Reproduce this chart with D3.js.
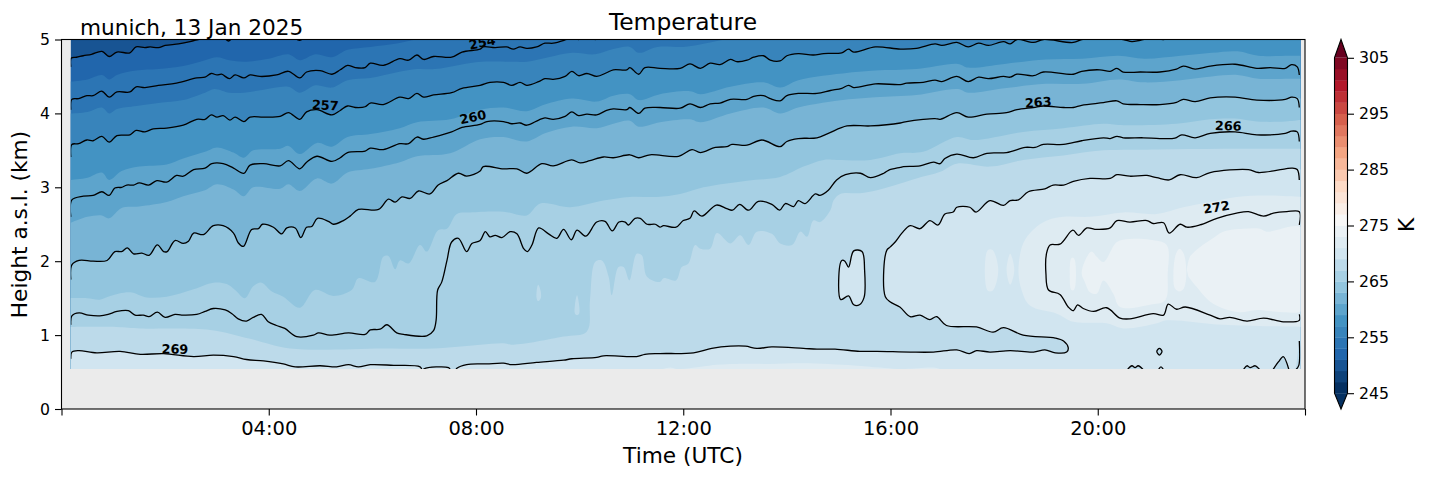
<!DOCTYPE html>
<html>
<head>
<meta charset="utf-8">
<style>
  html, body { margin: 0; padding: 0; background: #fff; }
  svg { display: block; }
  text { font-family: "DejaVu Sans", sans-serif; fill: #000; }
</style>
</head>
<body>
<div id="canvas"></div>
<script src="https://d3js.org/d3.v7.min.js"></script>
<script>
// isotherms, [hour UTC, height km]
var iso251 = [[.18,4.63],[.19,4.75],[.29,4.76],[.42,4.78],[.58,4.80],[.78,4.84],[.92,4.77],[1.07,4.83],[1.32,4.82],[1.44,4.90],[1.61,4.89],[1.71,4.90],[1.87,4.89],[2.0,4.92],[2.26,4.94],[2.48,4.97],[2.64,5.0],[2.8,5.03],[3.0,5.05],[3.12,5.03],[3.22,4.98],[3.32,5.03],[3.5,5.05],[4.4,5.05],[4.6,4.99],[4.73,5.05]];

var iso254 = [[.18,4.05],[.20,4.19],[.33,4.20],[.49,4.24],[.61,4.24],[.78,4.30],[.92,4.22],[1.07,4.29],[1.32,4.29],[1.44,4.36],[1.61,4.35],[1.87,4.38],[2.22,4.41],[2.61,4.48],[2.77,4.49],[2.89,4.54],[3.0,4.52],[3.09,4.53],[3.24,4.47],[3.35,4.52],[3.52,4.48],[3.64,4.52],[3.83,4.50],[4.15,4.52],[4.38,4.57],[4.60,4.48],[4.73,4.56],[4.99,4.58],[5.22,4.53],[5.38,4.59],[5.52,4.65],[5.67,4.62],[5.86,4.62],[5.96,4.68],[6.21,4.65],[6.53,4.74],[6.70,4.72],[6.86,4.79],[6.99,4.73],[7.18,4.77],[7.53,4.76],[7.73,4.83],[8.08,4.87],[8.14,4.90],[8.37,4.89],[8.59,4.90],[8.72,4.87],[8.85,4.90],[8.98,4.88],[9.17,4.90],[9.33,4.95],[9.49,4.95],[9.75,5.0],[9.88,5.03],[9.98,5.0],[10.07,5.03],[10.2,5.03],[10.3,5.0],[10.4,5.03]];

var iso257 = [[.18,3.41],[.20,3.58],[.33,3.59],[.49,3.64],[.61,3.63],[.78,3.69],[.92,3.61],[1.07,3.70],[1.32,3.71],[1.44,3.77],[1.61,3.75],[1.77,3.79],[2.03,3.80],[2.35,3.84],[2.61,3.92],[2.77,3.92],[2.89,3.98],[3.0,3.95],[3.12,3.97],[3.25,3.91],[3.35,3.95],[3.52,3.89],[3.64,3.95],[3.9,3.95],[4.22,3.96],[4.38,4.01],[4.60,3.92],[4.73,4.02],[4.93,4.05],[5.22,3.98],[5.38,4.04],[5.52,4.10],[5.67,4.08],[5.86,4.09],[5.96,4.14],[6.21,4.12],[6.53,4.22],[6.70,4.20],[6.86,4.27],[6.99,4.22],[7.18,4.25],[7.53,4.28],[7.73,4.34],[8.08,4.38],[8.27,4.42],[8.53,4.42],[8.69,4.38],[8.85,4.42],[8.98,4.38],[9.21,4.43],[9.33,4.47],[9.49,4.46],[9.72,4.50],[9.85,4.57],[9.98,4.51],[10.14,4.54],[10.33,4.50],[10.52,4.55],[10.65,4.59],[10.91,4.59],[10.97,4.62],[11.14,4.53],[11.26,4.62],[11.55,4.61],[11.94,4.61],[12.13,4.67],[12.33,4.61],[12.52,4.68],[12.71,4.66],[12.91,4.73],[13.03,4.70],[13.23,4.72],[13.36,4.76],[13.55,4.78],[13.68,4.72],[13.87,4.71],[14.0,4.78],[14.22,4.81],[14.51,4.79],[14.71,4.81],[15.06,4.82],[15.19,4.87],[15.29,4.83],[15.71,4.90],[16.19,4.87],[16.5,4.88],[16.86,4.94],[16.99,4.92],[17.28,4.96],[17.5,4.90],[17.7,4.95],[17.89,4.92],[18.18,4.97],[18.31,4.94],[18.44,5.0],[18.76,4.96],[18.95,5.0],[19.53,4.96],[19.69,5.0],[19.98,5.02],[20.49,5.0],[20.66,4.97],[20.82,4.99],[21.07,5.02],[21.27,5.0],[21.4,5.03]];

var iso260 = [[.18,2.6],[.20,2.83],[.42,2.88],[.61,2.89],[.78,2.94],[.92,2.89],[1.03,2.99],[1.16,3.0],[1.26,3.03],[1.39,3.03],[1.5,3.06],[1.68,3.03],[1.84,3.09],[2.03,3.07],[2.22,3.16],[2.35,3.15],[2.55,3.24],[2.77,3.26],[2.9,3.32],[3.12,3.32],[3.32,3.26],[3.52,3.19],[3.64,3.30],[3.9,3.32],[4.22,3.29],[4.38,3.36],[4.6,3.25],[4.73,3.34],[4.93,3.42],[5.22,3.35],[5.38,3.40],[5.52,3.47],[5.86,3.49],[5.96,3.53],[6.21,3.51],[6.53,3.59],[6.70,3.59],[6.86,3.68],[6.99,3.65],[7.18,3.68],[7.53,3.75],[7.73,3.81],[8.08,3.85],[8.21,3.89],[8.53,3.89],[8.69,3.86],[8.85,3.87],[8.98,3.84],[9.21,3.91],[9.33,3.94],[9.49,3.92],[9.72,3.96],[9.85,4.02],[9.98,3.97],[10.14,3.99],[10.33,3.98],[10.52,4.04],[10.65,4.06],[10.91,4.05],[10.97,4.08],[11.14,4.0],[11.26,4.07],[11.55,4.08],[11.94,4.07],[12.13,4.13],[12.33,4.08],[12.52,4.13],[12.71,4.14],[12.91,4.19],[13.23,4.19],[13.36,4.23],[13.55,4.24],[13.68,4.20],[13.87,4.17],[14.0,4.24],[14.22,4.27],[14.58,4.27],[14.84,4.31],[15.06,4.34],[15.19,4.38],[15.29,4.35],[15.71,4.40],[16.19,4.39],[16.31,4.41],[16.63,4.42],[16.86,4.45],[16.99,4.43],[17.28,4.50],[17.5,4.43],[17.7,4.49],[17.89,4.47],[18.18,4.50],[18.31,4.49],[18.44,4.53],[18.76,4.51],[18.95,4.56],[19.53,4.53],[19.69,4.57],[20.04,4.59],[20.24,4.57],[20.37,4.61],[20.49,4.56],[20.82,4.56],[21.2,4.56],[21.52,4.60],[21.65,4.64],[21.88,4.60],[22.17,4.64],[22.65,4.665],[23.07,4.61],[23.33,4.62],[23.62,4.61],[23.74,4.66],[23.85,4.63],[23.89,4.52]];

var iso263 = [[.18,1.75],[.2,1.95],[.34,2.01],[.61,2.0],[.88,2.01],[1.03,2.13],[1.16,2.13],[1.27,2.18],[1.39,2.10],[1.55,2.11],[1.69,2.08],[1.85,2.22],[1.97,2.13],[2.04,2.13],[2.19,2.28],[2.35,2.24],[2.45,2.27],[2.55,2.38],[2.74,2.36],[2.93,2.48],[3.12,2.48],[3.32,2.38],[3.41,2.25],[3.51,2.20],[3.67,2.43],[3.8,2.44],[3.88,2.5],[4.09,2.46],[4.25,2.37],[4.35,2.45],[4.51,2.45],[4.62,2.32],[4.73,2.46],[4.83,2.47],[4.94,2.58],[5.15,2.54],[5.25,2.5],[5.44,2.55],[5.57,2.61],[5.73,2.70],[6.12,2.70],[6.31,2.84],[6.44,2.80],[6.57,2.87],[6.73,2.85],[6.89,2.95],[7.11,2.91],[7.27,3.03],[7.44,3.09],[7.66,3.19],[7.82,3.15],[8.08,3.22],[8.14,3.28],[8.53,3.25],[8.79,3.25],[8.98,3.19],[9.27,3.32],[9.49,3.29],[9.85,3.37],[10.01,3.33],[10.2,3.36],[10.46,3.41],[10.65,3.40],[10.97,3.44],[11.14,3.40],[11.36,3.44],[11.91,3.42],[12.17,3.51],[12.33,3.47],[12.62,3.54],[12.84,3.55],[12.94,3.58],[13.23,3.57],[13.52,3.64],[13.87,3.55],[14.0,3.62],[14.22,3.66],[14.58,3.67],[14.8,3.73],[15.16,3.83],[15.61,3.83],[16.19,3.87],[16.31,3.89],[16.63,3.92],[16.86,3.93],[16.96,3.92],[17.28,4.01],[17.5,3.95],[17.86,3.99],[18.24,4.01],[18.44,4.05],[18.76,4.08],[18.95,4.10],[19.34,4.08],[19.53,4.08],[19.69,4.11],[20.11,4.145],[20.37,4.17],[20.49,4.13],[20.82,4.12],[21.2,4.12],[21.52,4.15],[21.65,4.19],[21.88,4.16],[22.17,4.21],[22.65,4.22],[23.07,4.18],[23.62,4.19],[23.74,4.22],[23.85,4.20],[23.89,4.08]];

var iso266 = [[.18,1.14],[.2,1.26],[.34,1.30],[.52,1.27],[.74,1.26],[.9,1.28],[1.07,1.32],[1.29,1.33],[1.42,1.27],[1.58,1.27],[1.69,1.25],[1.85,1.31],[2.0,1.24],[2.19,1.28],[2.32,1.27],[2.61,1.28],[2.77,1.32],[2.93,1.36],[3.16,1.34],[3.29,1.29],[3.41,1.22],[3.57,1.19],[3.7,1.24],[3.86,1.28],[3.99,1.18],[4.15,1.13],[4.31,1.09],[4.54,.98],[4.86,1.0],[4.96,1.03],[5.18,1.0],[5.54,1.03],[5.86,1.01],[5.96,1.07],[6.15,1.08],[6.28,1.14],[6.47,1.03],[6.6,1.01],[7.05,.99],[7.18,1.06],[7.23,1.2],[7.26,1.61],[7.34,1.72],[7.44,2.01],[7.53,2.26],[7.66,2.31],[7.82,2.13],[7.92,2.24],[8.08,2.28],[8.18,2.40],[8.27,2.33],[8.37,2.35],[8.5,2.32],[8.66,2.40],[8.79,2.37],[8.92,2.17],[8.99,2.13],[9.08,2.22],[9.21,2.45],[9.4,2.37],[9.56,2.31],[9.69,2.43],[9.84,2.29],[9.95,2.42],[10.12,2.34],[10.33,2.53],[10.49,2.54],[10.63,2.41],[10.76,2.53],[10.88,2.53],[10.94,2.49],[11.07,2.58],[11.17,2.58],[11.3,2.5],[11.46,2.5],[11.55,2.46],[11.62,2.48],[11.86,2.46],[12.0,2.55],[12.13,2.58],[12.21,2.68],[12.36,2.61],[12.64,2.76],[12.84,2.71],[12.95,2.69],[13.09,2.77],[13.26,2.69],[13.45,2.81],[13.71,2.77],[13.86,2.69],[13.97,2.78],[14.13,2.74],[14.22,2.82],[14.35,2.78],[14.55,2.91],[14.64,2.89],[14.8,2.96],[14.96,3.10],[15.13,3.17],[15.42,3.19],[15.61,3.13],[15.87,3.19],[15.96,3.23],[16.19,3.27],[16.25,3.28],[16.57,3.29],[16.83,3.34],[16.96,3.32],[17.05,3.39],[17.28,3.45],[17.6,3.40],[17.86,3.46],[18.24,3.47],[18.6,3.54],[18.79,3.54],[18.95,3.58],[19.34,3.58],[19.69,3.63],[20.11,3.67],[20.24,3.66],[20.37,3.69],[20.49,3.67],[20.88,3.67],[21.2,3.66],[21.49,3.665],[21.62,3.71],[21.88,3.67],[22.17,3.73],[22.65,3.75],[23.07,3.71],[23.62,3.73],[23.74,3.76],[23.85,3.75],[23.89,3.62]];

var iso269 = [[.18,.68],[.2,.77],[.33,.79],[.68,.76],[1.13,.78],[1.52,.74],[1.97,.75],[2.55,.71],[2.93,.73],[3.32,.71],[3.57,.67],[3.9,.65],[4.28,.61],[4.51,.57],[4.99,.585],[5.31,.57],[5.54,.60],[5.73,.57],[5.96,.60],[6.41,.59],[6.92,.57],[6.97,.52],[7.0,.545],[7.47,.56],[7.52,.52],[7.6,.52],[7.63,.55],[7.82,.6],[8.08,.61],[8.21,.61],[8.53,.62],[8.69,.6],[9.17,.63],[9.69,.66],[9.85,.68],[10.33,.70],[10.46,.72],[11.1,.71],[11.26,.74],[11.55,.75],[12.2,.76],[12.55,.82],[12.91,.85],[13.2,.85],[13.42,.82],[13.71,.84],[14.32,.82],[14.58,.81],[14.93,.81],[15.41,.78],[15.74,.78],[16.38,.77],[16.83,.77],[17.28,.8],[17.52,.75],[17.66,.79],[17.92,.77],[18.31,.79],[18.76,.77],[18.98,.8],[19.18,.76],[19.4,.77],[19.43,.83],[19.34,.92],[19.18,.96],[18.56,1.0],[18.18,1.10],[17.98,1.04],[17.66,1.11],[17.08,1.13],[16.89,1.25],[16.76,1.21],[16.57,1.27],[16.38,1.25],[16.18,1.38],[15.99,1.45],[15.9,1.52],[15.87,1.88],[15.93,2.15],[15.99,2.19],[16.09,2.26],[16.22,2.38],[16.38,2.48],[16.57,2.44],[16.76,2.55],[16.92,2.49],[17.05,2.64],[17.21,2.665],[17.28,2.73],[17.53,2.73],[17.65,2.665],[17.92,2.82],[18.18,2.755],[18.31,2.82],[18.47,2.83],[18.66,2.94],[18.98,2.98],[19.14,3.03],[19.34,3.03],[19.53,3.08],[19.85,3.12],[20.24,3.12],[20.37,3.17],[20.62,3.15],[20.95,3.16],[21.14,3.13],[21.38,3.10],[21.59,3.17],[21.91,3.13],[22.17,3.2],[22.91,3.24],[23.1,3.2],[23.62,3.25],[23.75,3.26],[23.85,3.24],[23.89,3.10]];

var iso269Island = [[15.06,2.01],[15.0,1.74],[15.04,1.48],[15.19,1.53],[15.29,1.41],[15.4,1.41],[15.49,1.51],[15.5,1.88],[15.45,2.13],[15.29,2.14],[15.19,1.92],[15.12,2.0]];
var iso269Ring = [[21.14,.78],[21.19,.82],[21.24,.78],[21.19,.73]];
var iso269Pockets = [
  [[20.57,.53],[20.66,.585],[20.72,.56],[20.78,.585],[20.88,.53]],
  [[21.17,.53],[21.22,.57],[21.27,.53]],
  [[22.81,.53],[22.88,.585],[22.94,.56],[23.04,.585],[23.13,.53]],
  [[23.38,.53],[23.49,.64],[23.58,.71],[23.69,.53]],
  [[23.82,.53],[23.88,.59],[23.89,.92]]
];

var iso272 = [[23.89,2.49],[23.89,2.67],[23.65,2.67],[23.39,2.65],[23.2,2.61],[22.91,2.67],[22.68,2.65],[22.3,2.58],[21.97,2.49],[21.72,2.46],[21.59,2.5],[21.38,2.38],[21.27,2.52],[21.07,2.51],[20.95,2.55],[20.62,2.53],[20.37,2.55],[20.24,2.45],[19.98,2.43],[19.79,2.45],[19.63,2.35],[19.52,2.42],[19.27,2.23],[19.08,2.22],[19.01,2.1],[19.0,1.83],[19.05,1.61],[19.27,1.55],[19.43,1.38],[19.53,1.33],[19.61,1.41],[19.72,1.36],[19.92,1.32],[20.17,1.37],[20.43,1.23],[20.62,1.22],[21.07,1.29],[21.27,1.27],[21.36,1.42],[21.52,1.35],[21.69,1.38],[22.17,1.27],[22.36,1.22],[22.55,1.24],[22.88,1.19],[23.2,1.23],[23.58,1.18],[23.89,1.2],[23.89,1.28]];

// filled band edges with no black line on them
var edge253 = [[.18,4.43],[.5,4.46],[.78,4.52],[.92,4.46],[1.07,4.52],[1.44,4.58],[1.87,4.6],[2.35,4.64],[2.77,4.72],[3,4.76],[3.24,4.72],[3.52,4.7],[4,4.74],[4.38,4.8],[4.6,4.72],[4.9,4.8],[5.22,4.76],[5.52,4.86],[5.96,4.9],[6.5,4.95],[6.86,5.0],[7.5,5.02],[8,5.08],[23.9,5.1]];
var edge255 = [[.18,4.0],[.5,4.02],[.78,4.08],[.92,4.0],[1.07,4.06],[1.44,4.1],[1.87,4.14],[2.35,4.18],[2.77,4.28],[2.95,4.33],[3.24,4.28],[3.52,4.28],[3.9,4.32],[4.38,4.36],[4.6,4.28],[4.9,4.38],[5.22,4.35],[5.52,4.45],[5.96,4.48],[6.5,4.56],[6.86,4.6],[7.2,4.6],[7.7,4.66],[8.1,4.7],[8.7,4.7],[8.98,4.7],[9.4,4.76],[9.85,4.82],[10.3,4.8],[10.65,4.87],[10.97,4.9],[11.14,4.82],[11.5,4.9],[12,4.9],[12.3,4.93],[12.8,5.0],[13.3,5.05],[14,5.1],[23.9,5.1]];
var edge259 = [[.18,3.1],[.5,3.13],[.78,3.2],[.92,3.1],[1.16,3.22],[1.5,3.28],[2.03,3.31],[2.35,3.39],[2.77,3.48],[3.0,3.54],[3.32,3.47],[3.52,3.4],[3.7,3.5],[4.22,3.52],[4.38,3.56],[4.6,3.45],[4.93,3.6],[5.22,3.55],[5.52,3.68],[5.96,3.72],[6.53,3.8],[6.86,3.88],[7.5,3.92],[8.08,4.05],[8.53,4.08],[8.98,4.03],[9.33,4.12],[9.85,4.2],[10.33,4.16],[10.65,4.24],[10.97,4.26],[11.14,4.18],[11.55,4.26],[12.13,4.3],[12.33,4.26],[12.91,4.36],[13.55,4.42],[13.87,4.35],[14.22,4.45],[15.19,4.55],[15.71,4.58],[16.5,4.6],[17.3,4.67],[17.5,4.62],[18.2,4.67],[19,4.73],[19.7,4.74],[20.4,4.78],[20.9,4.74],[21.6,4.78],[22.2,4.82],[22.7,4.84],[23.1,4.78],[23.7,4.78],[23.89,4.78]];
var edge261 = [[.18,2.52],[.5,2.6],[.78,2.62],[.92,2.58],[1.16,2.72],[1.5,2.74],[2.03,2.8],[2.35,2.88],[2.77,2.96],[3.0,3.04],[3.32,2.97],[3.52,2.88],[3.7,3.0],[4.22,2.98],[4.38,3.04],[4.6,2.95],[4.93,3.12],[5.22,3.05],[5.52,3.2],[5.96,3.25],[6.53,3.34],[6.86,3.42],[7.5,3.46],[8.08,3.65],[8.53,3.68],[8.98,3.62],[9.33,3.73],[9.85,3.82],[10.33,3.8],[10.65,3.86],[10.97,3.9],[11.14,3.82],[11.55,3.88],[12.13,3.92],[12.33,3.88],[12.91,4.0],[13.55,4.08],[13.87,4.0],[14.22,4.08],[15.19,4.19],[15.71,4.22],[16.5,4.25],[17.3,4.33],[17.5,4.28],[18.2,4.34],[19,4.4],[19.7,4.4],[20.4,4.46],[20.9,4.42],[21.6,4.45],[22.2,4.5],[22.7,4.52],[23.1,4.47],[23.7,4.47],[23.89,4.47]];
var edge265 = [[.18,1.5],[.49,1.5],[.74,1.48],[.94,1.53],[1.32,1.58],[1.64,1.51],[2.03,1.52],[2.55,1.62],[2.93,1.71],[3.19,1.69],[3.35,1.61],[3.54,1.5],[3.7,1.66],[3.86,1.71],[4.06,1.59],[4.28,1.52],[4.6,1.37],[4.89,1.61],[5.25,1.53],[5.6,1.61],[5.73,1.77],[6.05,1.72],[6.21,2.06],[6.31,2.07],[6.44,1.89],[6.53,2.01],[6.7,1.97],[6.92,2.22],[7.05,2.13],[7.27,2.42],[7.44,2.44],[7.63,2.64],[7.89,2.66],[8.53,2.67],[8.98,2.62],[9.24,2.78],[9.82,2.73],[10.46,2.82],[10.97,2.87],[11.49,2.87],[11.94,2.91],[12.39,3.0],[13.23,3.09],[13.87,3.14],[14.32,3.28],[14.71,3.37],[14.96,3.37],[15.61,3.37],[16.19,3.46],[16.63,3.48],[17.28,3.68],[17.6,3.64],[18.56,3.75],[19.34,3.8],[20.11,3.86],[20.5,3.84],[21.52,3.86],[22.17,3.92],[22.65,3.93],[23.07,3.89],[23.62,3.89],[23.89,3.91]];
var edge267 = [[.18,1.11],[1.07,1.11],[1.52,1.09],[2.87,1.07],[3.64,.95],[4.41,.82],[6.21,.82],[7.18,.82],[8.08,.87],[8.53,.89],[8.72,.87],[9.69,.98],[10.14,1.05],[10.2,1.47],[10.3,1.99],[10.43,2.01],[10.56,1.79],[10.62,1.54],[10.75,1.92],[10.85,1.92],[10.96,1.74],[11.1,2.1],[11.2,2.08],[11.3,1.79],[11.55,1.72],[11.62,1.77],[11.86,1.74],[11.97,1.92],[12.1,1.97],[12.23,2.22],[12.33,2.17],[12.52,2.17],[12.65,2.38],[12.91,2.24],[13.1,2.35],[13.26,2.22],[13.42,2.4],[13.71,2.37],[13.87,2.24],[14.1,2.22],[14.26,2.4],[14.39,2.33],[14.51,2.55],[14.64,2.53],[14.84,2.69],[14.9,2.82],[15.03,2.91],[15.41,2.92],[15.74,2.96],[16.19,3.05],[16.5,3.12],[16.96,3.21],[17.28,3.32],[17.92,3.28],[18.56,3.37],[19.34,3.43],[20.11,3.5],[21.14,3.51],[22.42,3.52],[23.89,3.52]];
var edge267IslandA = [[9.17,1.59],[9.2,1.68],[9.25,1.59],[9.25,1.5],[9.2,1.46],[9.17,1.5]];
var edge267IslandB = [[9.91,1.41],[9.95,1.54],[9.99,1.41],[9.99,1.29],[9.95,1.27],[9.91,1.29]];
var edge271 = [[23.95,2.87],[23.26,2.89],[22.68,2.87],[22.17,2.8],[21.65,2.73],[21.14,2.64],[20.5,2.66],[19.85,2.6],[19.34,2.6],[19.02,2.55],[18.76,2.43],[18.56,2.24],[18.47,1.88],[18.53,1.61],[18.69,1.4],[19.21,1.29],[19.53,1.18],[20.17,1.16],[20.5,1.09],[21.14,1.16],[21.33,1.2],[22.42,1.14],[23.95,1.11]];
var edge271IslandA = [[17.82,1.88],[17.88,2.15],[17.97,2.15],[18.08,1.88],[17.97,1.6],[17.88,1.6]];
var edge271IslandB = [[18.24,1.88],[18.31,2.1],[18.39,1.88],[18.31,1.68]];
var edge271Ground = [[11.55,.53],[11.75,.56],[11.88,.54],[12.65,.6],[13.03,.61],[13.68,.61],[14.32,.62],[15.29,.59],[15.8,.56],[16.19,.54],[16.83,.56],[17,.53]];
var edge273Main = [[19.69,1.83],[19.75,2.0],[19.88,2.13],[19.98,2.06],[20.11,1.99],[20.37,2.26],[20.62,2.3],[21.01,2.29],[21.33,2.22],[21.35,1.83],[21.3,1.47],[21.01,1.41],[20.43,1.38],[20.3,1.56],[20.11,1.74],[19.98,1.56],[19.85,1.58],[19.75,1.72]];
var edge273Right = [[21.72,1.88],[21.78,2.06],[21.97,2.19],[22.2,2.3],[22.42,2.4],[22.81,2.44],[23.13,2.44],[23.26,2.4],[23.95,2.45],[23.95,1.34],[23.58,1.31],[23.07,1.34],[22.74,1.31],[22.42,1.36],[22.17,1.45],[21.91,1.65],[21.75,1.79]];
var edge273IslandA = [[19.46,1.83],[19.49,2.04],[19.54,2.04],[19.58,1.83],[19.54,1.61],[19.49,1.61]];
var edge273IslandB = [[21.46,1.83],[21.51,2.1],[21.58,2.17],[21.66,2.1],[21.71,1.83],[21.66,1.63],[21.58,1.59],[21.49,1.63]];

var bandLevels = d3.range(245, 305, 2);
var colorTicks = [245, 255, 265, 275, 285, 295, 305];
var timeTicks = [0, 4, 8, 12, 16, 20, 24];
var heightTicks = [0, 1, 2, 3, 4, 5];
var contourLabels = ["254", "257", "260", "263", "266", "269", "272"];

// matplotlib RdBu_r anchors
var rdbuAnchors = ["#053061", "#2166ac", "#4393c3", "#92c5de", "#d1e5f0", "#f7f7f7", "#fddbc7", "#f4a582", "#d6604d", "#b2182b", "#67001f"];
var rdbu = d3.scaleLinear().domain(d3.range(11).map(function (i) { return i / 10; })).range(rdbuAnchors);
var bandColor = function (level) { return rdbu((level - 245) / 60); };

var width = 1429, height = 478;
var x = d3.scaleLinear().domain([0, 24]).range([61.5, 1305]);
var y = d3.scaleLinear().domain([0, 5]).range([409, 39.5]);
var dataStart = 0.18, dataEnd = 23.91, dataBottom = 0.54;

var svg = d3.select("#canvas").append("svg").attr("width", width).attr("height", height);

svg.append("defs").append("clipPath").attr("id", "dataClip").append("rect")
  .attr("x", x(dataStart)).attr("y", y(5))
  .attr("width", x(dataEnd) - x(dataStart)).attr("height", y(dataBottom) - y(5));
svg.select("defs").append("clipPath").attr("id", "axesClip").append("rect")
  .attr("x", x(0)).attr("y", y(5)).attr("width", x(24) - x(0)).attr("height", y(0) - y(5));

svg.append("rect").attr("x", x(0)).attr("y", y(5))
  .attr("width", x(24) - x(0)).attr("height", y(0) - y(5)).attr("fill", "#ebebeb");

var line = d3.line().x(function (d) { return x(d[0]); }).y(function (d) { return y(d[1]); })
  .curve(d3.curveCatmullRom.alpha(0.5));
var closedLine = d3.line().x(function (d) { return x(d[0]); }).y(function (d) { return y(d[1]); })
  .curve(d3.curveCatmullRomClosed.alpha(0.5));

// everything warmer than an edge: the edge, then down and round the bottom
var belowPath = function (pts) {
  var a = pts[0], b = pts[pts.length - 1];
  return line(pts) +
    "L" + x(24.5) + "," + y(b[1]) + "L" + x(24.5) + "," + y(0) +
    "L" + x(-0.5) + "," + y(0) + "L" + x(-0.5) + "," + y(a[1]) + "Z";
};

var fills = svg.append("g").attr("clip-path", "url(#dataClip)");
var addFill = function (d, level) { fills.append("path").attr("d", d).attr("fill", bandColor(level)); };

addFill("M" + x(0) + "," + y(6) + "H" + x(24) + "V" + y(0) + "H" + x(0) + "Z", 249);
addFill(belowPath(iso251.slice(1, 17).concat([[24, 5.1]])), 251);
addFill(belowPath(edge253), 253);
addFill(belowPath(edge255), 255);
addFill(belowPath(iso257.slice(1).concat([[23.95, 5.03]])), 257);
addFill(belowPath(edge259), 259);
addFill(belowPath(edge261), 261);
addFill(belowPath(iso263.slice(1, -1)), 263);
addFill(belowPath(edge265), 265);
addFill(belowPath(edge267), 267);
addFill(closedLine(edge267IslandA), 267);
addFill(closedLine(edge267IslandB), 267);
addFill(belowPath(iso269.slice(1, -1)), 269);
addFill(closedLine(iso269Island), 269);
iso269Pockets.forEach(function (p) { addFill(line(p) + "Z", 267); });
addFill(closedLine(iso269Ring), 267);
addFill(line(edge271) + "Z", 271);
addFill(closedLine(edge271IslandA), 271);
addFill(closedLine(edge271IslandB), 271);
addFill(line(edge271Ground) + "Z", 271);
addFill(closedLine(edge273Main), 273);
addFill(line(edge273Right) + "Z", 273);
addFill(closedLine(edge273IslandA), 273);
addFill(closedLine(edge273IslandB), 273);

var lines = svg.append("g").attr("clip-path", "url(#dataClip)")
  .attr("fill", "none").attr("stroke", "#000").attr("stroke-width", 1.3);
[iso251, iso254, iso257, iso260, iso263, iso266, iso269, iso272].concat(iso269Pockets).forEach(function (p) {
  lines.append("path").attr("d", line(p));
});
lines.append("path").attr("d", closedLine(iso269Island));
lines.append("path").attr("d", closedLine(iso269Ring));

// clabel text sits where matplotlib put it
var labelAt = { "254": [8.12, 4.96, -12], "257": [5.09, 4.11, 3], "260": [7.94, 3.95, -12], "263": [18.85, 4.15, -4],
                "266": [22.52, 3.83, 2], "269": [2.19, 0.81, 1], "272": [22.29, 2.73, -9] };
var labels = svg.append("g").attr("clip-path", "url(#axesClip)");
contourLabels.forEach(function (t) {
  var p = labelAt[t];
  labels.append("text").text(t)
    .attr("transform", "translate(" + x(p[0]) + "," + y(p[1]) + ") rotate(" + p[2] + ")")
    .attr("text-anchor", "middle").attr("dominant-baseline", "central")
    .attr("font-size", 12.8).attr("font-weight", "bold");
});

// axes
var xAxis = d3.axisBottom(x).tickValues(timeTicks).tickSize(6.5).tickPadding(6)
  .tickFormat(function (d) { return (d === 0 || d === 24) ? "" : d3.format("02d")(d) + ":00"; });
var yAxis = d3.axisLeft(y).tickValues(heightTicks).tickSize(6.5).tickPadding(5).tickFormat(d3.format("d"));

var gx = svg.append("g").attr("transform", "translate(0," + y(0) + ")").call(xAxis);
var gy = svg.append("g").attr("transform", "translate(" + x(0) + ",0)").call(yAxis);
gx.select(".domain").remove();
gy.select(".domain").remove();
gx.selectAll("text").attr("font-size", 19.5).attr("font-family", "DejaVu Sans");
gy.selectAll("text").attr("font-size", 15.7).attr("font-family", "DejaVu Sans");
gx.selectAll("line").attr("stroke", "#000").attr("stroke-width", 1.1);
gy.selectAll("line").attr("stroke", "#000").attr("stroke-width", 1.1);

svg.append("rect").attr("x", x(0)).attr("y", y(5))
  .attr("width", x(24) - x(0)).attr("height", y(0) - y(5))
  .attr("fill", "none").attr("stroke", "#000").attr("stroke-width", 1.1);

svg.append("text").text("Time (UTC)").attr("x", 683).attr("y", 463)
  .attr("text-anchor", "middle").attr("font-size", 21.7);
svg.append("text").text("Height a.s.l. (km)")
  .attr("transform", "translate(27,224.5) rotate(-90)")
  .attr("text-anchor", "middle").attr("font-size", 21.7);
svg.append("text").text("Temperature").attr("x", 683).attr("y", 30)
  .attr("text-anchor", "middle").attr("font-size", 23.4);
svg.append("text").text("munich, 13 Jan 2025").attr("x", 80).attr("y", 34.5)
  .attr("font-size", 21.6);

// colour bar
var cb = d3.scaleLinear().domain([245, 305]).range([393.2, 57.8]);
var cbLeft = 1334.5, cbRight = 1347.5, cbMid = (cbLeft + cbRight) / 2;
var bar = svg.append("g");
bar.selectAll("rect").data(bandLevels).enter().append("rect")
  .attr("x", cbLeft).attr("width", cbRight - cbLeft)
  .attr("y", function (d) { return cb(d + 2); })
  .attr("height", function (d) { return cb(d) - cb(d + 2) + 0.3; })
  .attr("fill", bandColor);
bar.append("path").attr("d", "M" + cbLeft + "," + cb(305) + "L" + cbMid + ",39.5L" + cbRight + "," + cb(305) + "Z")
  .attr("fill", rdbu(1));
bar.append("path").attr("d", "M" + cbLeft + "," + cb(245) + "L" + cbMid + ",409L" + cbRight + "," + cb(245) + "Z")
  .attr("fill", rdbu(0));
bar.append("path")
  .attr("d", "M" + cbLeft + "," + cb(305) + "L" + cbMid + ",39.5L" + cbRight + "," + cb(305) + "V" + cb(245) + "L" + cbMid + ",409L" + cbLeft + "," + cb(245) + "Z")
  .attr("fill", "none").attr("stroke", "#000").attr("stroke-width", 1.1);

var cAxis = d3.axisRight(cb).tickValues(colorTicks).tickSize(6.5).tickPadding(5);
var gc = svg.append("g").attr("transform", "translate(" + cbRight + ",0)").call(cAxis);
gc.select(".domain").remove();
gc.selectAll("text").attr("font-size", 15.7).attr("font-family", "DejaVu Sans");
gc.selectAll("line").attr("stroke", "#000").attr("stroke-width", 1.1);

svg.append("text").text("K").attr("transform", "translate(1414,225) rotate(-90)")
  .attr("text-anchor", "middle").attr("font-size", 21.7);
</script>
</body>
</html>
